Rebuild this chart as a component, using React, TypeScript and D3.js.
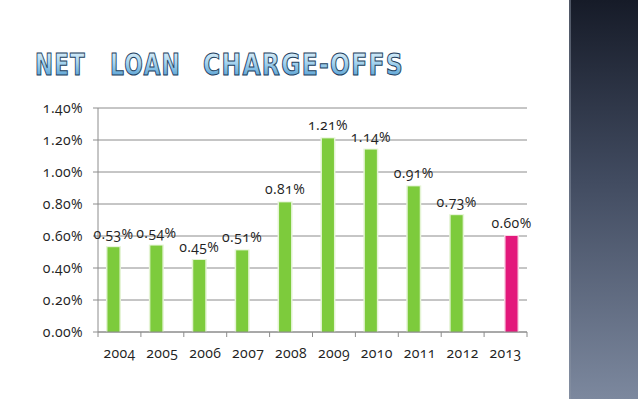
import React from 'react';
import * as d3 from 'd3';

const years = ['2004', '2005', '2006', '2007', '2008', '2009', '2010', '2011', '2012', '2013'];
// green series (history) and pink series (current year)
const historyValues = [0.53, 0.54, 0.45, 0.51, 0.81, 1.21, 1.14, 0.91, 0.73, null];
const currentValues = [null, null, null, null, null, null, null, null, null, 0.6];
const yTicks = [0, 0.2, 0.4, 0.6, 0.8, 1.0, 1.2, 1.4];
const titleWords = ['NET', 'LOAN', 'CHARGE-OFFS'];

const width = 638;
const height = 399;
const plot = { left: 98, right: 527, top: 108, bottom: 332 };
const numFont = "'Open Sans', 'Lato', sans-serif";
const numStyle = { fontFeatureSettings: "'onum'", letterSpacing: '0.4px' };
// title word placement (x start, width)
const titleSlots = [
  [35, 51],
  [110, 71],
  [203, 201],
];

const App = () => {
  const x0 = d3.scaleBand().domain(years).range([plot.left, plot.right]).padding(0);
  const x1 = d3
    .scaleBand()
    .domain(['history', 'current'])
    .range([0, x0.bandwidth()])
    .paddingInner(0)
    .paddingOuter(0.79);
  const y = d3.scaleLinear().domain([0, 1.4]).range([plot.bottom, plot.top]);

  const series = [
    { key: 'history', values: historyValues, color: '#7dcb3c', glow: '#e4f4d4' },
    { key: 'current', values: currentValues, color: '#e3187b', glow: '#f9d6e6' },
  ];

  const fmt = (v: number) => v.toFixed(2) + '%';

  return (
    <svg width={width} height={height} style={{ position: 'absolute', left: 0, top: 0, background: '#fff' }}>
      <defs>
        <linearGradient id="sidebar" x1="0" y1="0" x2="0" y2="1">
          <stop offset="0" stopColor="#161b28" />
          <stop offset="0.45" stopColor="#414b60" />
          <stop offset="1" stopColor="#7c889e" />
        </linearGradient>
        <linearGradient id="titleFill" x1="0" y1="0" x2="0" y2="1">
          <stop offset="0" stopColor="#eef8fd" />
          <stop offset="0.45" stopColor="#a6d4ef" />
          <stop offset="1" stopColor="#3c8fcb" />
        </linearGradient>
      </defs>

      {/* right side dark strip */}
      <rect x={569} y={0} width={width - 569} height={height} fill="url(#sidebar)" />
      <rect x={569} y={0} width={2} height={height} fill="#8a93a3" opacity={0.5} />

      {/* title */}
      {titleWords.map((w, i) => (
        <text
          key={w}
          x={titleSlots[i][0]}
          y={75}
          textLength={titleSlots[i][1]}
          lengthAdjust="spacingAndGlyphs"
          fontFamily="'DejaVu Sans Condensed', 'DejaVu Sans', sans-serif"
          fontWeight="bold"
          fontSize={30}
          fill="url(#titleFill)"
          stroke="#22405e"
          strokeWidth={1}
          style={{ letterSpacing: '1.5px' }}
        >
          {w}
        </text>
      ))}

      {/* gridlines + y ticks */}
      {yTicks.map((t) => (
        <g key={t}>
          <line x1={plot.left - 5} x2={plot.right} y1={y(t)} y2={y(t)} stroke="#8c8c8c" strokeWidth={1} />
          <text
            x={83}
            y={y(t)}
            dy="0.35em"
            textAnchor="end"
            fontFamily={numFont}
            fontSize={14}
            fill="#222"
            style={numStyle}
          >
            {fmt(t)}
          </text>
        </g>
      ))}

      {/* y axis */}
      <line x1={plot.left} x2={plot.left} y1={plot.top} y2={plot.bottom} stroke="#8c8c8c" />

      {/* x ticks */}
      {years.map((yr) => (
        <line
          key={'t' + yr}
          x1={x0(yr)!}
          x2={x0(yr)!}
          y1={plot.bottom}
          y2={plot.bottom + 5}
          stroke="#8c8c8c"
        />
      ))}
      <line x1={plot.right} x2={plot.right} y1={plot.bottom} y2={plot.bottom + 5} stroke="#8c8c8c" />

      {/* bars */}
      {series.map((s) =>
        s.values.map((v, i) => {
          if (v == null) return null;
          const bx = x0(years[i])! + x1(s.key)!;
          const bw = x1.bandwidth();
          const top = y(v);
          return (
            <g key={s.key + i}>
              <rect x={bx - 1.5} y={top - 1} width={bw + 3} height={plot.bottom - top + 1} fill={s.glow} />
              <rect x={bx} y={top} width={bw} height={plot.bottom - top} fill={s.color} />
              <text
                x={bx + bw / 2}
                y={top - 8}
                textAnchor="middle"
                fontFamily={numFont}
                fontSize={14}
                fill="#222"
                style={numStyle}
              >
                {fmt(v)}
              </text>
            </g>
          );
        })
      )}

      {/* x axis */}
      <line x1={plot.left} x2={plot.right} y1={plot.bottom} y2={plot.bottom} stroke="#8c8c8c" />

      {/* x labels */}
      {years.map((yr) => (
        <text
          key={'l' + yr}
          x={x0(yr)! + x0.bandwidth() / 2}
          y={358}
          textAnchor="middle"
          fontFamily={numFont}
          fontSize={14}
          fill="#222"
          style={numStyle}
        >
          {yr}
        </text>
      ))}
    </svg>
  );
};

export default App;
